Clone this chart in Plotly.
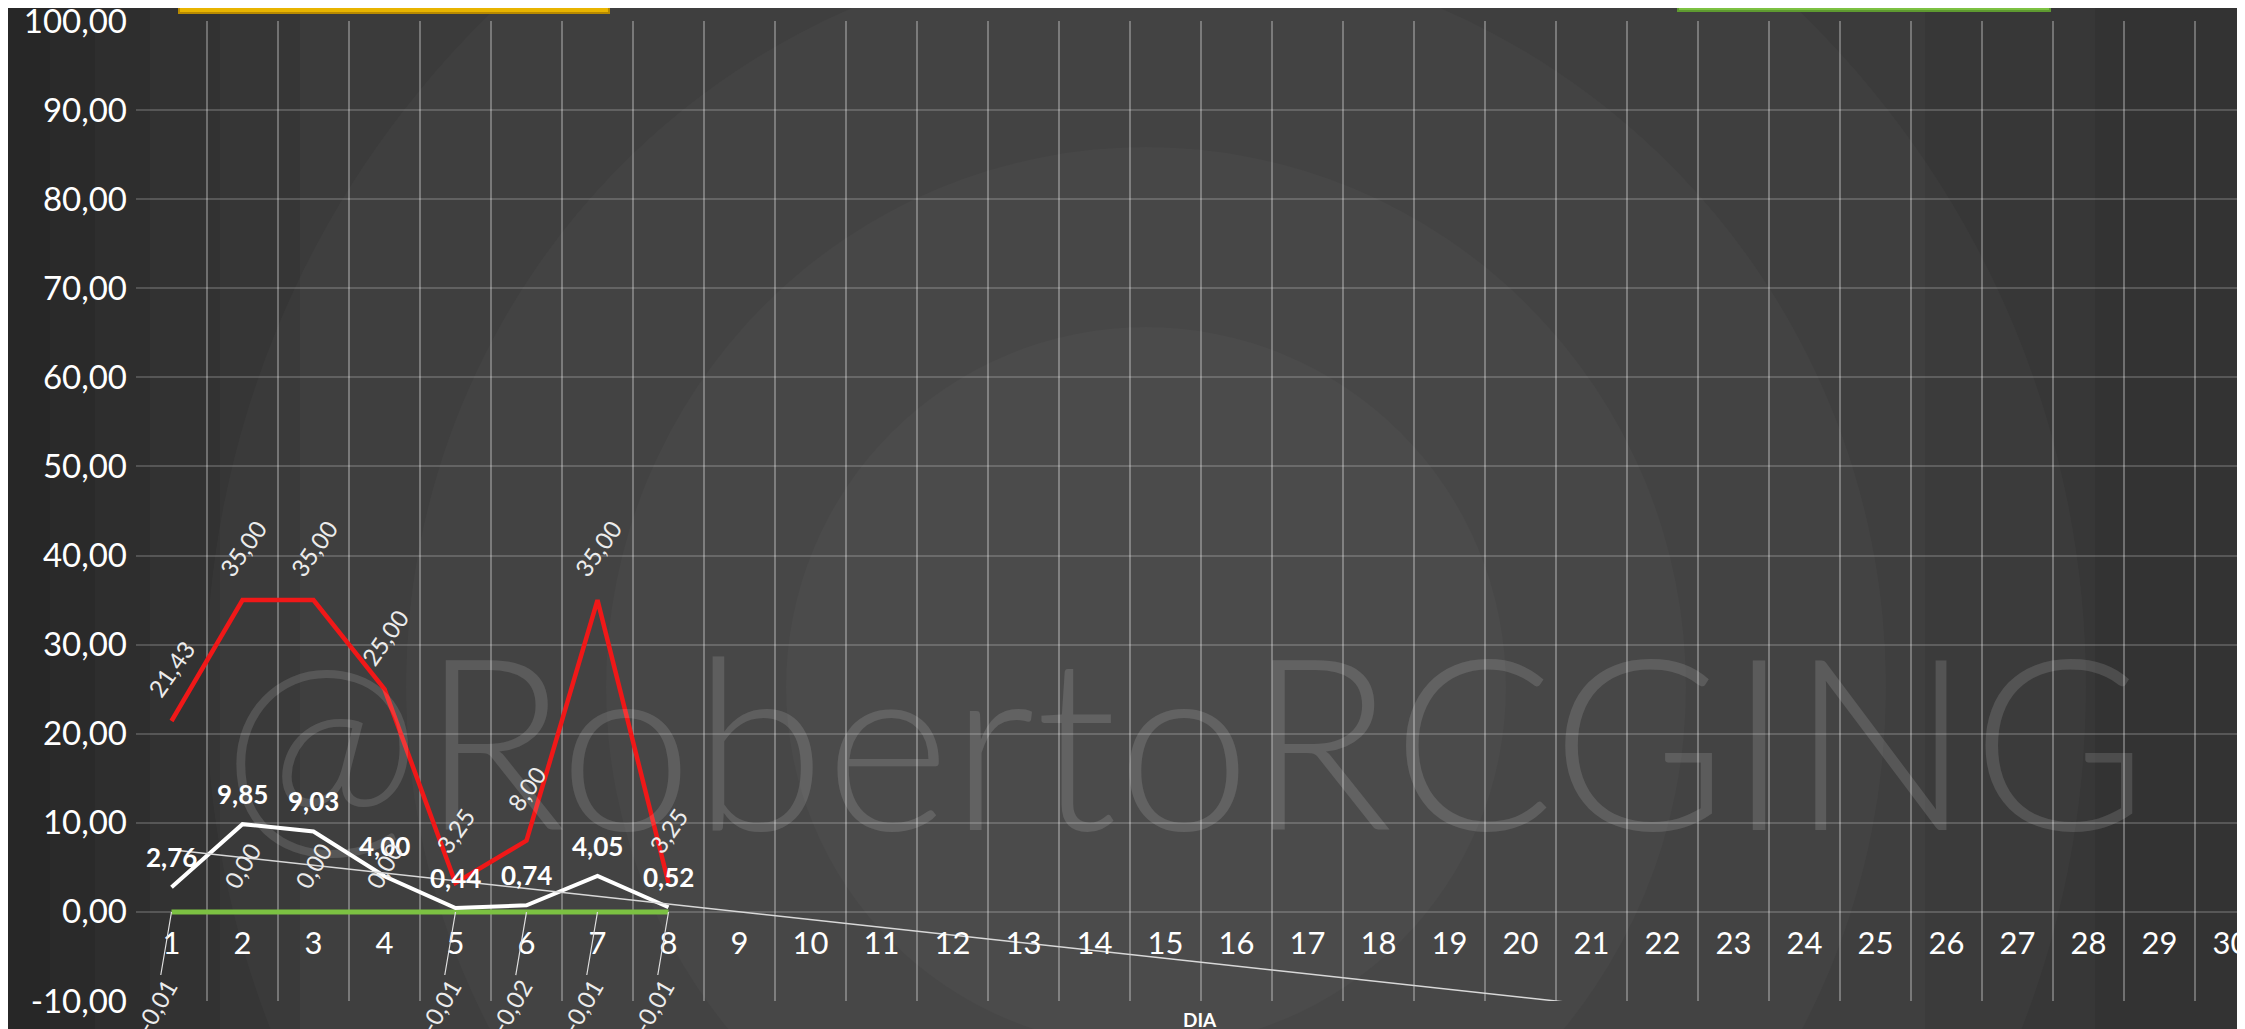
import plotly.graph_objects as go
import numpy as np

# ---------------- data ----------------
days = [str(d) for d in range(1, 31)]
red_vals = [21.43, 35.00, 35.00, 25.00, 3.25, 8.00, 35.00, 3.25]
white_vals = [2.76, 9.85, 9.03, 4.00, 0.44, 0.74, 4.05, 0.52]
green_vals = [-0.01, 0.00, 0.00, 0.00, -0.01, -0.02, -0.01, -0.01]
y_ticks = [-10, 0, 10, 20, 30, 40, 50, 60, 70, 80, 90, 100]
watermark = "@RobertoRCGING"
x_title = "DIA"

# ---------------- geometry ----------------
# the page body has an 8px margin, so figure coords = screen coords - OFF
OFF = 8
W, H = 2245, 1029
SCR_L, SCR_T, SCR_B, SCR_R = 136, 21, 1001, 2245     # wanted plot box on screen
ML, MT = SCR_L - OFF, SCR_T - OFF
MB = H - (SCR_B - OFF)
MR = W - (SCR_R - OFF)
PW, PH = W - ML - MR, H - MT - MB
CAT_PX = 71.0
FONT = "Lato"
y_min, y_max = y_ticks[0], y_ticks[-1]


def px_x(sx):          # screen x -> paper fraction
    return (sx - SCR_L) / PW


def px_y(sy):          # screen y -> paper fraction
    return (SCR_B - sy) / PH


def fmt(v):
    return f"{v:.2f}".replace(".", ",")


n = len(white_vals)
xs = np.arange(1, n + 1)
slope, icpt = np.polyfit(xs, white_vals, 1)
trend_y = [slope * (i + 1) + icpt for i in range(len(days))]

fig = go.Figure()
fig.add_trace(go.Scatter(x=days[:n], y=green_vals, mode="lines",
                         line=dict(color="#7cc142", width=5), name="Mínimo"))
fig.add_trace(go.Scatter(x=days[:n], y=white_vals, mode="lines",
                         line=dict(color="#ffffff", width=4), name="Promedio"))
fig.add_trace(go.Scatter(x=days[:n], y=red_vals, mode="lines",
                         line=dict(color="#f01818", width=4.5), name="Máximo"))
fig.add_trace(go.Scatter(x=days, y=trend_y, mode="lines",
                         line=dict(color="#d8d8d8", width=1.5), name="Tendencia"))

ann = []
# on a category axis annotation x is the category index
for i, v in enumerate(red_vals):
    ann.append(dict(x=i, y=v, text=fmt(v), textangle=-55, yshift=52, showarrow=False,
                    font=dict(family=FONT, size=24, color="#ececec")))
for i, v in enumerate(white_vals):
    ann.append(dict(x=i, y=v, text="<b>" + fmt(v) + "</b>", yshift=30, showarrow=False,
                    font=dict(family=FONT, size=26, color="#ffffff")))
for i, v in enumerate(green_vals):
    if v >= 0:
        ann.append(dict(x=i, y=v, text=fmt(v), textangle=-60, yshift=46, showarrow=False,
                        font=dict(family=FONT, size=24, color="#ececec")))
    else:
        ann.append(dict(x=i, y=v, text=fmt(v), textangle=-60, showarrow=True,
                        ax=-16, ay=94, arrowhead=0, arrowwidth=1.2, arrowcolor="#e0e0e0",
                        standoff=0, font=dict(family=FONT, size=24, color="#ececec")))

# watermark
ann.append(dict(xref="paper", yref="paper", x=px_x(1185), y=px_y(737),
                text=watermark, showarrow=False, xanchor="center", yanchor="middle",
                font=dict(family=FONT, size=240, color="rgba(255,255,255,0.13)", weight=300)))
# axis title
ann.append(dict(xref="paper", yref="paper", x=px_x(1200), y=0, yshift=-5,
                yanchor="top", xanchor="center", showarrow=False, text="<b>" + x_title + "</b>",
                font=dict(family=FONT, size=19, color="#ffffff")))

shapes = []
# dark left band (gradient imitation)
for w in [50, 95, 150, 220, 300]:
    shapes.append(dict(type="rect", xref="paper", yref="paper", layer="below",
                       x0=px_x(-20), x1=px_x(w), y0=-0.1, y1=1.1,
                       fillcolor="rgba(0,0,0,0.07)", line=dict(width=0)))
# dark right band
for w in [150, 320]:
    shapes.append(dict(type="rect", xref="paper", yref="paper", layer="below",
                       x0=px_x(W - w), x1=1.02, y0=-0.1, y1=1.1,
                       fillcolor="rgba(0,0,0,0.06)", line=dict(width=0)))
# concentric rings
cx, cy = px_x(1146), px_y(687)
for r in [940, 740, 540, 360]:
    shapes.append(dict(type="circle", xref="paper", yref="paper", layer="below",
                       xsizemode="pixel", ysizemode="pixel", xanchor=cx, yanchor=cy,
                       x0=-r, x1=r, y0=-r, y1=r,
                       fillcolor="rgba(255,255,255,0.022)", line=dict(width=0)))
# top boxes (cut off at the top edge)
shapes.append(dict(type="rect", xref="paper", yref="paper", ysizemode="pixel", yanchor=1,
                   x0=px_x(179), x1=px_x(609), y0=SCR_T - 13, y1=SCR_T + 20,
                   fillcolor="#e8b400", line=dict(color="#b88a00", width=2)))
shapes.append(dict(type="rect", xref="paper", yref="paper", ysizemode="pixel", yanchor=1,
                   x0=px_x(1678), x1=px_x(2050), y0=SCR_T - 11, y1=SCR_T + 20,
                   fillcolor="#7cc142", line=dict(color="#5e9a30", width=2)))

right_edge = -0.5 + PW / CAT_PX

fig.update_layout(
    template="none",
    width=W, height=H,
    margin=dict(l=ML, r=MR, t=MT, b=MB, autoexpand=False),
    paper_bgcolor="#3b3b3b", plot_bgcolor="rgba(0,0,0,0)",
    separators=",.",
    showlegend=False,
    font=dict(family=FONT, color="#ffffff"),
    annotations=ann, shapes=shapes,
    xaxis=dict(type="category", categoryorder="array", categoryarray=days,
               range=[-0.5, right_edge], tickson="boundaries", automargin=False,
               showgrid=True, gridcolor="rgba(255,255,255,0.30)", gridwidth=2,
               ticks="", showline=False, zeroline=False,
               anchor="free", position=(0 - y_min) / (y_max - y_min),
               tickfont=dict(family=FONT, size=31, color="#ffffff"),
               ticklabelstandoff=10, ticklabeloverflow="allow"),
    yaxis=dict(range=[y_min, y_max], tickmode="array", tickvals=y_ticks,
               ticktext=[fmt(t) for t in y_ticks], automargin=False,
               showgrid=True, gridcolor="rgba(255,255,255,0.18)", gridwidth=1.5,
               zeroline=False, ticks="", showline=False,
               tickfont=dict(family=FONT, size=33, color="#ffffff"),
               ticklabelstandoff=8, ticklabeloverflow="allow"),
)

fig.write_html("out.html")
